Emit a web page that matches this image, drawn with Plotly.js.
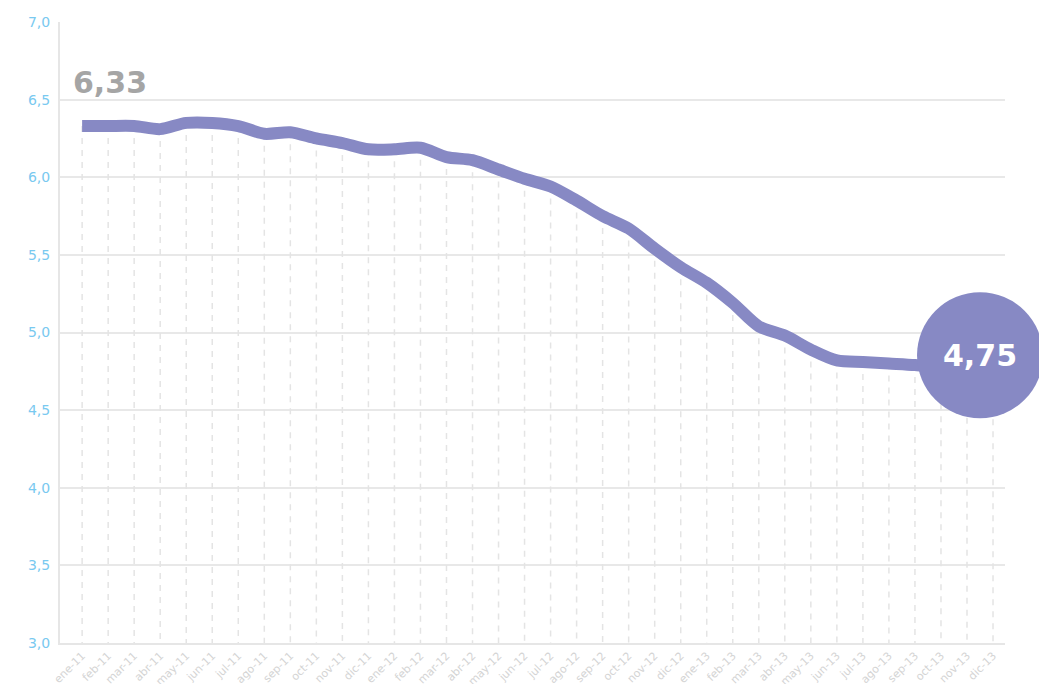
<!DOCTYPE html>
<html>
<head>
<meta charset="utf-8">
<script src="https://cdn.plot.ly/plotly-3.0.1.min.js"></script>
<style>html,body{margin:0;padding:0;background:#fff;}#chart{width:1039px;height:684px;}</style>
</head>
<body>
<div id="chart"></div>
<script>
const months = ['ene-11','feb-11','mar-11','abr-11','may-11','jun-11','jul-11','ago-11','sep-11','oct-11','nov-11','dic-11',
                'ene-12','feb-12','mar-12','abr-12','may-12','jun-12','jul-12','ago-12','sep-12','oct-12','nov-12','dic-12',
                'ene-13','feb-13','mar-13','abr-13','may-13','jun-13','jul-13','ago-13','sep-13','oct-13','nov-13','dic-13'];
const values = [6.33,6.33,6.33,6.31,6.35,6.35,6.33,6.28,6.29,6.25,6.22,6.18,
                6.18,6.19,6.13,6.11,6.05,5.99,5.94,5.85,5.75,5.67,5.54,5.42,
                5.32,5.19,5.04,4.98,4.89,4.82,4.81,4.80,4.79,4.77,4.76,4.75];
const yTicks = [3.0,3.5,4.0,4.5,5.0,5.5,6.0,6.5,7.0];

const lineColor = '#8789c4';
const fmt = v => v.toFixed(2).replace('.', ',');
const yMin = yTicks[0], yMax = yTicks[yTicks.length-1];
const xRange = [-0.85, 35.46];

// dashed drop lines from each point down to the axis
const dx = [], dy = [];
months.forEach((m,i)=>{ dx.push(m,m,null); dy.push(values[i], yMin, null); });

const last = values.length-1;
// bubble anchor expressed in axis-domain fractions, derived from the data and axis ranges
const bubX = (last - xRange[0])/(xRange[1]-xRange[0]);
const bubY = (values[last] - yMin)/(yMax - yMin);
const R = 63, offX = -13, offY = 16;

const traces = [
  {x: dx, y: dy, mode:'lines', line:{color:'#e4e4e4', width:1.5, dash:'6px,6px'}, hoverinfo:'skip', showlegend:false},
  {x: months, y: values, mode:'lines', line:{color:lineColor, width:12, shape:'spline', smoothing:0.8}, showlegend:false}
];

const bigFont = 'DejaVu Sans, sans-serif';

const layout = {
  width:1039, height:684,
  margin:{l:60, r:34, t:22, b:41},
  paper_bgcolor:'#ffffff', plot_bgcolor:'#ffffff',
  separators:',.',
  showlegend:false,
  xaxis:{
    type:'category', range:xRange,
    showgrid:false, zeroline:false,
    showline:true, linecolor:'#e6e6e6', linewidth:2,
    ticks:'', tickangle:-45,
    tickfont:{family:'DejaVu Sans, sans-serif', size:11, color:'#d4d4d4'}
  },
  yaxis:{
    range:[yMin, yMax], tickvals:yTicks, tickformat:'.1f',
    showgrid:true, gridcolor:'#e8e8e8', gridwidth:2,
    zeroline:false, showline:true, linecolor:'#e6e6e6', linewidth:2,
    ticks:'', ticklabelstandoff:5,
    tickfont:{family:'DejaVu Sans, sans-serif', size:14, color:'#79c9f0'}
  },
  shapes:[
    {type:'circle', xref:'x domain', yref:'y domain', xsizemode:'pixel', ysizemode:'pixel',
     xanchor:bubX, yanchor:bubY, x0:offX-R, x1:offX+R, y0:offY-R, y1:offY+R,
     fillcolor:lineColor, line:{width:0}, layer:'above'}
  ],
  annotations:[
    {x: months[0], y: values[0], xref:'x', yref:'y', text: fmt(values[0]), showarrow:false,
     xanchor:'left', yanchor:'middle', xshift:-11, yshift:44,
     font:{family:bigFont, size:30, color:'#a5a5a5', weight:'bold'}},
    {x: months[last], y: values[last], xref:'x', yref:'y', text: fmt(values[last]), showarrow:false,
     xanchor:'center', yanchor:'middle', xshift:offX, yshift:offY,
     font:{family:bigFont, size:30, color:'#ffffff', weight:'bold'}}
  ]
};

Plotly.newPlot('chart', traces, layout, {displayModeBar:false, staticPlot:true});
</script>
</body>
</html>
